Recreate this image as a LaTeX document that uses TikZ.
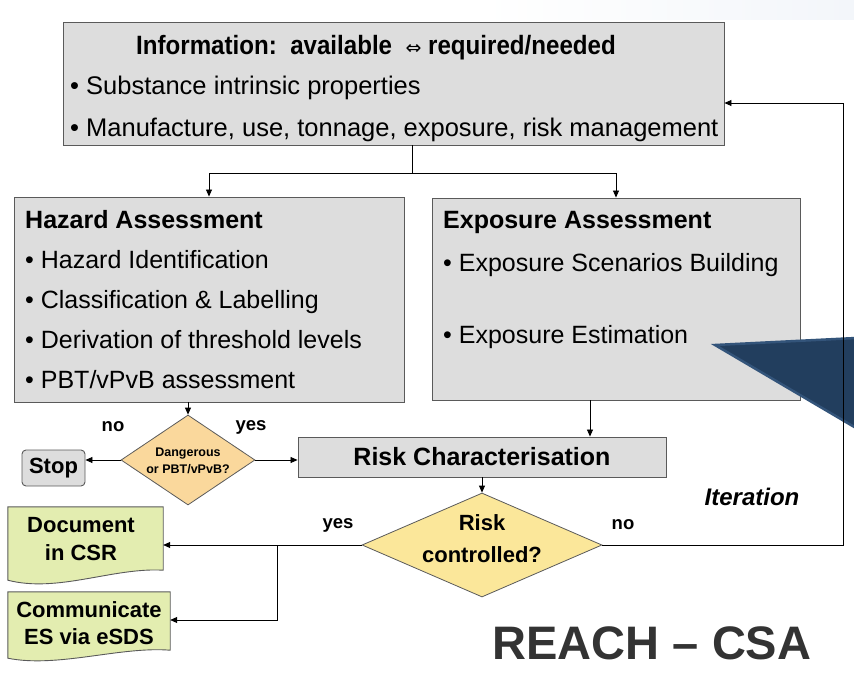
\documentclass[tikz,border=0pt]{standalone}
\usepackage{fontspec}
\setmainfont{Liberation Sans}
\newfontfamily\narrowfont[FakeStretch=0.91]{Liberation Sans}
\newfontfamily\symbfont{DejaVu Sans}
\usetikzlibrary{arrows.meta,shapes.geometric,calc}
\definecolor{boxgray}{HTML}{DDDDDD}
\definecolor{boxline}{HTML}{5A5A5A}
\definecolor{peach}{HTML}{FAD89C}
\definecolor{yellowd}{HTML}{FBE79A}
\definecolor{docgreen}{HTML}{E3EDB0}
\definecolor{navy}{HTML}{223E5E}
\definecolor{navyedge}{HTML}{33547A}
\definecolor{titlegray}{HTML}{333333}
\definecolor{faint}{HTML}{F3F6FA}
\tikzset{
  graybox/.style={draw=boxline, fill=boxgray, line width=0.9pt, inner sep=0, rectangle},
  txt/.style={inner sep=0, anchor=base west, font=\fontsize{25}{29}\selectfont},
  itxt/.style={inner sep=0, anchor=base west, font=\fontsize{25.5}{29}\selectfont},
  ttl/.style={inner sep=0, anchor=base west, font=\bfseries\fontsize{25}{29}\selectfont},
  lbl/.style={inner sep=0, font=\bfseries\fontsize{18.5}{22}\selectfont},
  arr/.style={-{Triangle[length=7pt,width=6pt]}, line width=0.8pt},
  ln/.style={line width=0.8pt},
  docbox/.style={inner sep=0, rectangle, align=center, font=\bfseries\fontsize{22}{28}\selectfont},
}
\begin{document}
\begin{tikzpicture}[x=1pt,y=-1pt]
\useasboundingbox (0,0) rectangle (854,677);
\shade[left color=white, right color=faint] (480,0) rectangle (854,20);

% top information box
\node[graybox, minimum width=661, minimum height=123] (info) at (393.5,83.5) {};
\node[inner sep=0, anchor=base, font=\narrowfont\bfseries\fontsize{26.5}{30}\selectfont] (infot) at (376,55)
  {Information:\ \ available\ \ {\symbfont\mdseries\fontsize{19}{19}\selectfont ⇔}\ required/needed};
\node[itxt] (i1) at (70,95) {• Substance intrinsic properties};
\node[itxt] (i2) at (70,136) {• Manufacture, use, tonnage, exposure, risk management};

% hazard box
\node[graybox, minimum width=390, minimum height=205] (haz) at (209,299.5) {};
\node[ttl] (hazt) at (25,228) {Hazard Assessment};
\node[txt] (h1) at (25,268) {• Hazard Identification};
\node[txt] (h2) at (25,308) {• Classification \& Labelling};
\node[txt] (h3) at (25,348) {• Derivation of threshold levels};
\node[txt] (h4) at (25,388) {• PBT/vPvB assessment};

% exposure box
\node[graybox, minimum width=368, minimum height=202] (exp) at (616,299) {};
\node[ttl] (expt) at (443,228) {Exposure Assessment};
\node[txt] (e1) at (443,271) {• Exposure Scenarios Building};
\node[txt] (e2) at (443,343) {• Exposure Estimation};

% dark triangle
\fill[navy, draw=navyedge, line width=2.5pt, line join=miter] (715,345) -- (856,338) -- (856,428) -- cycle;

% risk characterisation
\node[graybox, minimum width=368, minimum height=40, font=\bfseries\fontsize{25}{29}\selectfont] (rc) at (482,457) {Risk Characterisation};

% diamond 1
\node[diamond, draw=boxline, fill=peach, line width=0.8pt, minimum width=134, minimum height=90, inner sep=0] (d1) at (188,460) {};
\node[inner sep=0, align=center, font=\bfseries\fontsize{12.5}{17}\selectfont] (d1t) at (188,461) {Dangerous\\or PBT/vPvB?};

% stop
\node[draw=boxline, fill=boxgray, line width=0.9pt, rounded corners=4pt, minimum width=63, minimum height=36, inner sep=0, font=\bfseries\fontsize{22}{26}\selectfont] (stop) at (53.5,468) {Stop};

% diamond 2
\node[diamond, draw=boxline, fill=yellowd, line width=0.8pt, minimum width=240, minimum height=104, inner sep=0] (d2) at (482,545) {};
\node[inner sep=0, align=center, font=\bfseries\fontsize{22}{32}\selectfont] (d2t) at (482,539) {Risk\\controlled?};

% document boxes
\node[docbox, minimum width=155, minimum height=76] (doc) at (85.5,545) {};
\fill[docgreen, draw=boxline, line width=0.9pt] (doc.north west) -- (doc.north east) -- ($(doc.south east)+(0,-13)$)
   .. controls ($(doc.south east)+(-50,-16)$) and ($(doc.south west)+(50,10)$) .. ($(doc.south west)+(0,-3)$) -- cycle;
\node[inner sep=0, align=center, font=\bfseries\fontsize{22}{28}\selectfont] (doct) at (81,539) {Document\\in CSR};

\node[docbox, minimum width=162, minimum height=56] (comm) at (89,620) {};
\fill[docgreen, draw=boxline, line width=0.9pt] (comm.north west) -- (comm.north east) -- ($(comm.south east)+(0,2)$)
   .. controls ($(comm.south east)+(-50,-2)$) and ($(comm.south west)+(50,20)$) .. ($(comm.south west)+(0,10)$) -- cycle;
\node[inner sep=0, align=center, font=\bfseries\fontsize{22}{27}\selectfont] (commt) at (89,623) {Communicate\\ES via eSDS};

% labels
\node[lbl] (no1) at (113,427) {no};
\node[lbl] (yes1) at (251,427) {yes};
\node[lbl] (yes2) at (338,525) {yes};
\node[lbl] (no2) at (623,525) {no};
\node[inner sep=0, font=\bfseries\itshape\fontsize{24}{28}\selectfont] (iter) at (752,497) {Iteration};
\node[inner sep=0, text=titlegray, font=\bfseries\fontsize{47}{52}\selectfont] (reach) at (652,643) {REACH – CSA};

% connectors
\coordinate (sp) at (412,173);
\coordinate (ex) at (590,0);
\coordinate (br) at (277,545);
\coordinate (it) at (843,103);
\draw[ln] (info.south -| sp) -- (sp);
\draw[ln] (sp -| haz.north) -- (sp -| exp.north);
\draw[arr] (sp -| haz.north) -- (haz.north);
\draw[arr] (sp -| exp.north) -- (exp.north);
\draw[arr] (haz.south -| d1.north) -- (d1.north);
\draw[arr] (d1.west) -- (d1.west -| stop.east);
\draw[arr] (d1.east) -- (d1.east -| rc.west);
\draw[arr] (exp.south -| ex) -- (rc.north -| ex);
\draw[arr] (rc.south -| d2.north) -- (d2.north);
\draw[arr] (d2.west) -- (d2.west -| doc.east);
\draw[arr] (br) |- (comm.east);
\draw[arr] (d2.east) -| (it) -- (it -| info.east);
\end{tikzpicture}
\end{document}
